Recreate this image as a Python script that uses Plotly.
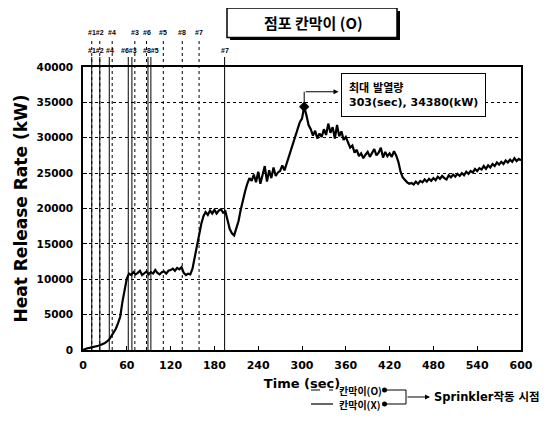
import plotly.graph_objects as go

# ---------------- data ----------------
time_sec = list(range(0, 601, 3))
hrr_kw = [
    0, 150, 250, 300, 350, 450, 500, 600, 700, 800,
    1000, 1200, 1500, 2000, 2500, 3000, 3800, 4700, 6800, 8600,
    10100, 10800, 10600, 11000, 10700, 10900, 11200, 10600, 10900, 11100,
    10700, 11000, 10800, 11300, 10900, 10700, 11000, 11100, 10800, 11200,
    11300, 11500, 11200, 11600, 11400, 11700, 10900, 10600, 10800, 10700,
    11500, 13200, 14900, 16300, 17800, 18900, 19500, 19100, 19700, 19300,
    19800, 19300, 19700, 19900, 19400, 19600, 18200, 17100, 16500, 16200,
    17200, 18200, 19800, 21200, 22400, 23500, 24300, 23900, 24800, 23700,
    25200, 23500, 24900, 26000, 23800, 25400, 24300, 25800, 24600, 25100,
    25300, 26100, 25400, 26400, 27200, 28500, 29300, 30400, 31300, 32200,
    32700, 34380, 33200, 31800, 31200, 30300, 31000, 29900, 30600, 30100,
    31200, 30400, 32000, 30700, 31500, 29900, 31800, 30200, 30900, 29700,
    30100, 29400, 28600, 28900, 27900, 28300, 27400, 27800, 27100, 27600,
    28000, 27300, 27900, 28400, 27500, 27900, 28600, 27200, 28000, 27400,
    27800, 27300, 28100, 27500, 26600, 25200, 24400, 24000, 23700, 23500,
    23600, 23400, 23800, 23500, 23900, 23700, 24100, 23800, 24200, 23900,
    24300, 24000, 24500, 24200, 24600, 24300, 24100, 24700, 24400, 24800,
    24500, 24900, 24600, 25000, 24700, 25200, 24900, 25300, 25100, 25600,
    25300, 25700, 25500, 26000, 25600, 26100, 25800, 26300, 26000, 26500,
    26200, 26600, 26300, 26800, 26500, 26900, 26600, 27100, 26700, 27000,
    26800,
]

# sprinkler activation times, partition (O) -> dashed
spr_o_times = [12, 23, 40, 71, 87, 110, 136, 159]
spr_o_label_pos = [17.5, 40, 71, 87, 110, 136, 159]
spr_o_labels = ["#1#2", "#4", "#3", "#6", "#5", "#8", "#7"]
# partition (X) -> solid
spr_x_times = [12, 23, 36, 62, 67, 89, 93, 194]
spr_x_label_pos = [17.5, 37, 63.5, 93, 194]
spr_x_labels = ["#1#2", "#4", "#6#3", "#8#5", "#7"]

peak_time = 303
peak_hrr = 34380

x_ticks = [0, 60, 120, 180, 240, 300, 360, 420, 480, 540, 600]
y_ticks = [0, 5000, 10000, 15000, 20000, 25000, 30000, 35000, 40000]

FONT = "DejaVu Sans, Noto Sans CJK KR, sans-serif"
KFONT = "Noto Sans CJK KR, DejaVu Sans, sans-serif"
SFONT = "Liberation Sans, Arial, sans-serif"

# target pixel positions (screen): plot area x 83..521, y 67..350
def px(xp):
    return (xp - 83) / 438

def py(yp):
    return (350 - yp) / 283

ROW_O_Y = py(41)
ROW_X_Y = py(57)
LBL_O_Y = py(32)
LBL_X_Y = py(50)

fig = go.Figure()
fig.add_trace(go.Scatter(x=time_sec, y=hrr_kw, mode="lines",
                         line=dict(color="black", width=2.2), showlegend=False,
                         hoverinfo="skip"))
fig.add_trace(go.Scatter(x=[peak_time], y=[peak_hrr], mode="markers",
                         marker=dict(symbol="diamond", size=8, color="black"),
                         showlegend=False, cliponaxis=False))
# sprinkler rows (overlay axis y2 in paper-like units 0..1)
fig.add_trace(go.Scatter(x=spr_o_times, y=[ROW_O_Y] * len(spr_o_times), yaxis="y2",
                         mode="lines+markers", cliponaxis=False, showlegend=False,
                         line=dict(color="black", width=1, dash="dot"),
                         marker=dict(size=4, color="black")))
fig.add_trace(go.Scatter(x=spr_x_times, y=[ROW_X_Y] * len(spr_x_times), yaxis="y2",
                         mode="lines+markers", cliponaxis=False, showlegend=False,
                         line=dict(color="black", width=1),
                         marker=dict(size=4, color="black")))

shapes = []
annotations = []

# vertical event lines
for t in spr_o_times:
    shapes.append(dict(type="line", xref="x", yref="paper", x0=t, x1=t, y0=0, y1=ROW_O_Y,
                       line=dict(color="black", width=1, dash="dot")))
for t in spr_x_times:
    shapes.append(dict(type="line", xref="x", yref="paper", x0=t, x1=t, y0=0, y1=ROW_X_Y,
                       line=dict(color="black", width=1)))
for t, lb in zip(spr_o_label_pos, spr_o_labels):
    annotations.append(dict(x=t, y=LBL_O_Y, xref="x", yref="paper", yanchor="middle",
                            text=lb, showarrow=False,
                            font=dict(size=7, color="black", family=SFONT, weight="bold")))
for t, lb in zip(spr_x_label_pos, spr_x_labels):
    annotations.append(dict(x=t, y=LBL_X_Y, xref="x", yref="paper", yanchor="middle",
                            text=lb, showarrow=False,
                            font=dict(size=7, color="black", family=SFONT, weight="bold")))

# peak callout
shapes.append(dict(type="line", xref="x", yref="y", x0=peak_time, x1=peak_time,
                   y0=peak_hrr, y1=36500, line=dict(color="black", width=1)))
annotations.append(dict(x=350, y=36500, ax=peak_time, ay=36500, xref="x", yref="y",
                        axref="x", ayref="y", text="", showarrow=True, arrowhead=2,
                        arrowsize=1, arrowwidth=1, arrowcolor="black"))
annotations.append(dict(x=353, y=36100, xref="x", yref="y", xanchor="left", yanchor="middle",
                        align="left", showarrow=False,
                        text="최대 발열량<br>303(sec), 34380(kW)",
                        font=dict(size=11, color="black", family=FONT, weight="bold"),
                        bordercolor="black", borderwidth=1, borderpad=7, bgcolor="white"))

# title box with drop shadow
shapes.append(dict(type="rect", xref="paper", yref="paper",
                   x0=px(230), x1=px(400), y0=py(40), y1=py(11),
                   fillcolor="black", line=dict(width=0)))
shapes.append(dict(type="rect", xref="paper", yref="paper",
                   x0=px(227), x1=px(397), y0=py(37.5), y1=py(8),
                   fillcolor="white", line=dict(color="black", width=1.5)))
annotations.append(dict(x=px(313), y=py(22.5), xref="paper", yref="paper", yanchor="middle",
                        text="점포 칸막이 (O)", showarrow=False,
                        font=dict(size=15, color="black", family=KFONT, weight="bold")))

# custom legend
shapes.append(dict(type="line", xref="paper", yref="paper", x0=px(311), x1=px(333),
                   y0=py(390), y1=py(390), line=dict(color="black", width=1, dash="dash")))
shapes.append(dict(type="line", xref="paper", yref="paper", x0=px(311), x1=px(333),
                   y0=py(404), y1=py(404), line=dict(color="black", width=1.2)))
annotations.append(dict(x=px(337), y=py(390), xref="paper", yref="paper", xanchor="left",
                        yanchor="middle", text="칸막이(O)", showarrow=False,
                        font=dict(size=10, color="black", family=KFONT, weight="bold")))
annotations.append(dict(x=px(337), y=py(404), xref="paper", yref="paper", xanchor="left",
                        yanchor="middle", text="칸막이(X)", showarrow=False,
                        font=dict(size=10, color="black", family=KFONT, weight="bold")))
for yy in (390, 404):
    shapes.append(dict(type="circle", xref="paper", yref="paper",
                       x0=px(382), x1=px(387), y0=py(yy + 2.5), y1=py(yy - 2.5),
                       fillcolor="black", line=dict(width=0)))
shapes.append(dict(type="path", xref="paper", yref="paper",
                   path=f"M {px(386)},{py(390)} L {px(406)},{py(390)} L {px(406)},{py(404)} L {px(386)},{py(404)}",
                   line=dict(color="black", width=1)))
annotations.append(dict(x=px(430), y=py(397), ax=-24, ay=0, xref="paper", yref="paper",
                        axref="pixel", ayref="pixel", text="", showarrow=True, arrowhead=2,
                        arrowsize=1, arrowwidth=1, arrowcolor="black"))
annotations.append(dict(x=px(432), y=py(397), xref="paper", yref="paper", xanchor="left",
                        yanchor="middle", text="Sprinkler작동 시점", showarrow=False,
                        font=dict(size=11.5, color="black", family=FONT, weight="bold")))

# page body has an 8px margin, so shrink the figure and offset margins
fig.update_layout(
    width=543, height=424,
    margin=dict(l=75, r=30, t=59, b=82),
    paper_bgcolor="white", plot_bgcolor="white",
    font=dict(family=FONT, color="black"),
    shapes=shapes, annotations=annotations, showlegend=False,
    yaxis2=dict(overlaying="y", range=[0, 1], visible=False, fixedrange=True),
)
fig.update_xaxes(
    range=[0, 600], tickvals=x_ticks, ticktext=[str(v) for v in x_ticks],
    showgrid=False, zeroline=False, showline=True, linecolor="black", linewidth=1.5, mirror=True,
    ticks="inside", ticklen=4, tickcolor="black", automargin=False, ticklabelstandoff=4,
    tickfont=dict(size=11, family=FONT, weight="bold"),
    title=dict(text="Time (sec)", font=dict(size=13, family=FONT, weight="bold"), standoff=8),
)
fig.update_layout(yaxis=dict(
    range=[0, 40000], tickvals=y_ticks, ticktext=[str(v) for v in y_ticks],
    showgrid=True, gridcolor="black", gridwidth=1, griddash="dot",
    zeroline=False, showline=True, linecolor="black", linewidth=1.5, mirror=True,
    ticks="inside", ticklen=4, tickcolor="black", ticklabelstandoff=6, automargin=False,
    tickfont=dict(size=10.5, family=FONT, weight="bold"),
    title=dict(text="Heat Release Rate (kW)", font=dict(size=17, family=FONT, weight="bold"), standoff=5),
))

fig.write_html("out.html")
